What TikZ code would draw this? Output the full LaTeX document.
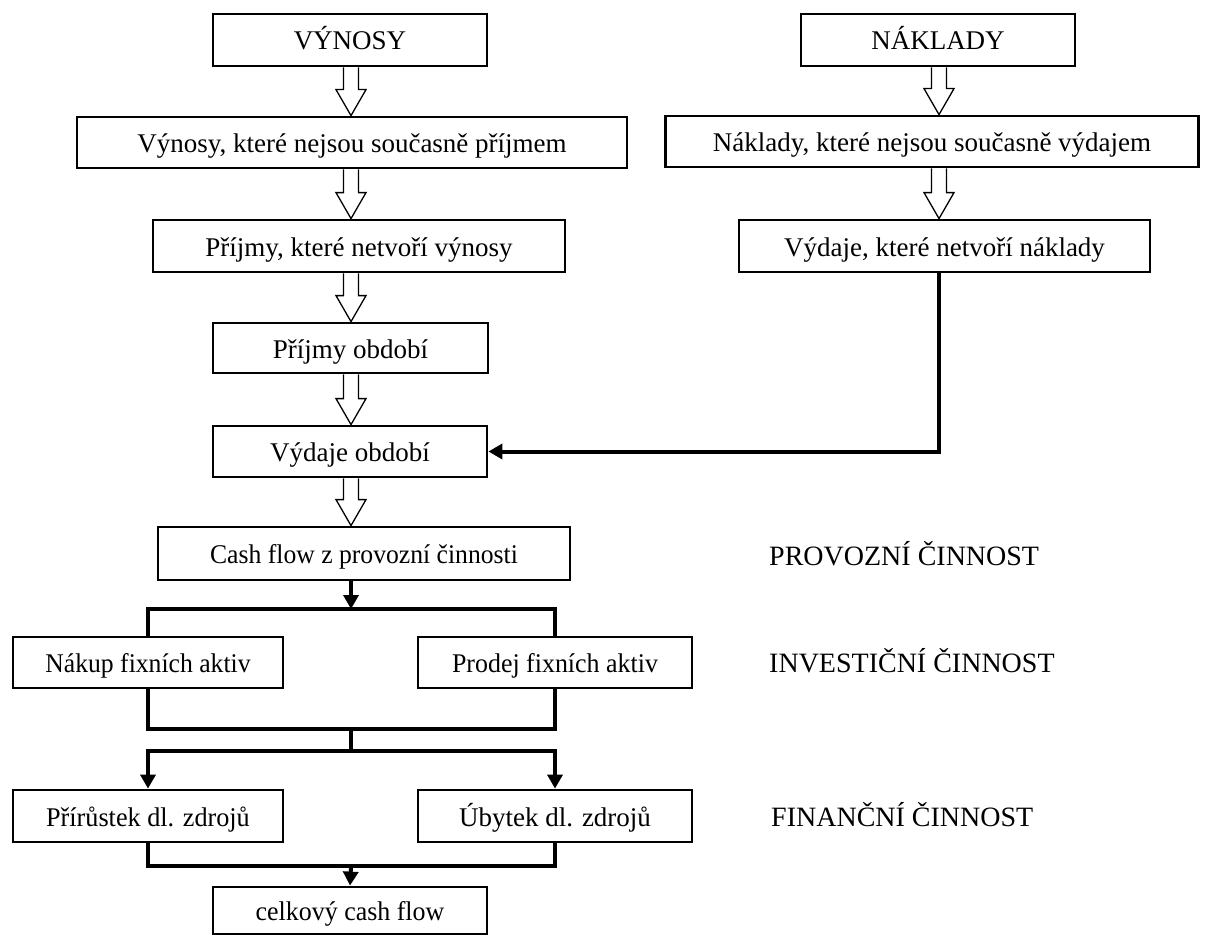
\documentclass[tikz,border=0pt]{standalone}
\usepackage{fontspec}
\setmainfont{Liberation Serif}
\usetikzlibrary{arrows.meta,calc}
\newcommand\hollowarrow[3]{%
  \coordinate (hA) at (#1 |- #2.south);
  \coordinate (hB) at (#1 |- #3.north);
  \draw[hollow] ($(hA)+(-7.5,0)$) -- ($(hB)+(-7.5,-26)$) -- ($(hB)+(-15,-26)$) -- (hB)
    -- ($(hB)+(15,-26)$) -- ($(hB)+(7.5,-26)$) -- ($(hA)+(7.5,0)$);
}
\begin{document}
\begin{tikzpicture}[x=1pt,y=-1pt,
  box/.style={draw, line width=2.8pt, fill=white, inner sep=0pt,
    text height=26pt, text depth=6pt,
    font=\fontsize{27}{32}\selectfont},
  lab/.style={anchor=base west, inner sep=0pt, font=\fontsize{28}{33}\selectfont},
  hollow/.style={draw, line width=1.3pt, fill=white, line join=miter},
  conn/.style={line width=4pt, line join=miter},
  >={Triangle[length=14pt,width=15pt]}]
\useasboundingbox (0,0) rectangle (1206,936);
\fill[white] (0,0) rectangle (1206,936);

\coordinate (colL) at (351,0);
\coordinate (colR) at (939,0);

% boxes
\node[box, minimum width=274, minimum height=52] (vyn) at (350,40) {VÝNOSY};
\node[box, minimum width=274, minimum height=52] (nak) at (938,40) {NÁKLADY};
\node[box, minimum width=550, minimum height=51] (vk) at (352,142.5) {Výnosy, které nejsou současně příjmem};
\node[box, minimum width=533, minimum height=51] (nk) at (932,141.5) {Náklady, které nejsou současně výdajem};
\node[box, minimum width=412, minimum height=52] (pk) at (359,246) {Příjmy, které netvoří výnosy};
\node[box, minimum width=411, minimum height=52] (vyk) at (944.5,246) {Výdaje, které netvoří náklady};
\node[box, minimum width=275, minimum height=50] (po) at (350.5,348) {Příjmy období};
\node[box, minimum width=274, minimum height=51] (vo) at (350,451.5) {Výdaje období};
\node[box, minimum width=412, minimum height=53] (cf) at (364,553.5) {\scalebox{0.95}[1]{Cash flow z provozní činnosti}};
\node[box, minimum width=270, minimum height=51] (nfa) at (148,662.5) {\scalebox{0.95}[1]{Nákup fixních aktiv}};
\node[box, minimum width=274, minimum height=51] (pfa) at (555,662.5) {\scalebox{0.96}[1]{Prodej fixních aktiv}};
\node[box, minimum width=270, minimum height=52] (pdz) at (148,816) {\scalebox{0.97}[1]{Přírůstek dl. zdrojů}};
\node[box, minimum width=274, minimum height=52] (udz) at (555,816) {Úbytek dl. zdrojů};
\node[box, minimum width=274, minimum height=47] (ccf) at (350,910.5) {\scalebox{0.96}[1]{celkový cash flow}};

% side labels
\node[lab] (lprov) at (769,565) {PROVOZNÍ ČINNOST};
\node[lab] (linv) at (769,672) {INVESTIČNÍ ČINNOST};
\node[lab] (lfin) at (771,826) {FINANČNÍ ČINNOST};

% hollow block arrows
\hollowarrow{colL}{vyn}{vk}
\hollowarrow{colL}{vk}{pk}
\hollowarrow{colL}{pk}{po}
\hollowarrow{colL}{po}{vo}
\hollowarrow{colL}{vo}{cf}
\hollowarrow{colR}{nak}{nk}
\hollowarrow{colR}{nk}{vyk}

% bar coordinates
\coordinate (bar1) at (351,609);
\coordinate (bar2) at (351,729);
\coordinate (bar3) at (351,751);
\coordinate (bar4) at (351,866);

% thick connectors
\draw[conn,->] (colR |- vyk.south) -- (colR |- vo.east) -- (vo.east);
\draw[conn,->] (colL |- cf.south) -- (bar1);
\draw[conn] (nfa.north) -- (nfa.north |- bar1) -- (pfa.north |- bar1) -- (pfa.north);
\draw[conn] (nfa.south) -- (nfa.south |- bar2) -- (pfa.south |- bar2) -- (pfa.south);
\draw[conn] (bar2) -- (bar3);
\draw[conn,<->] (pdz.north) -- (pdz.north |- bar3) -- (udz.north |- bar3) -- (udz.north);
\draw[conn] (pdz.south) -- (pdz.south |- bar4) -- (udz.south |- bar4) -- (udz.south);
\draw[conn,->] (bar4) -- (ccf.north);
\end{tikzpicture}
\end{document}
